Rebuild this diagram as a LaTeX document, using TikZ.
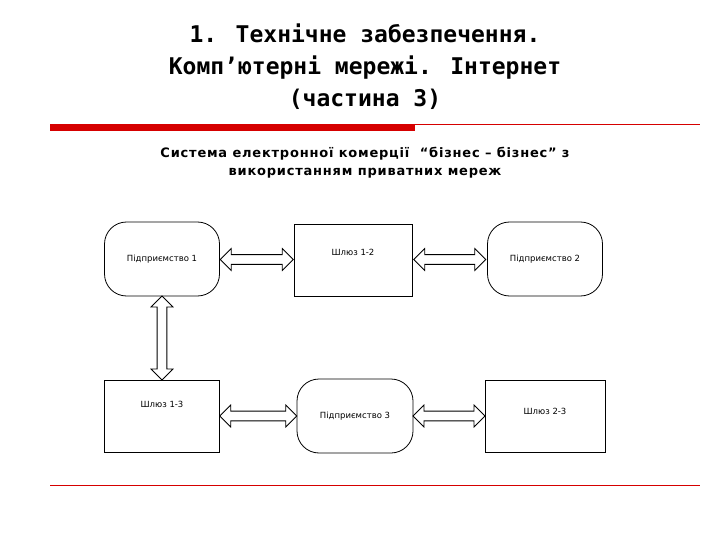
\documentclass[tikz,border=0pt]{standalone}
\usepackage{fontspec}
\setmainfont{DejaVu Sans}
\newfontfamily\titlefont{DejaVu Sans Mono}
\newfontfamily\subfont[LetterSpace=6]{DejaVu Sans}
\usetikzlibrary{shapes.arrows,calc}
\definecolor{slidered}{RGB}{214,0,0}
\begin{document}
\begin{tikzpicture}[x=1pt,y=-1pt,line width=0.8pt,
  ent/.style={draw,rounded corners=22pt,minimum width=115pt,minimum height=74pt,font=\fontsize{8.5}{9}\selectfont,inner sep=0pt},
  gw/.style={draw,minimum width=118pt,minimum height=72pt,font=\fontsize{8.5}{9}\selectfont,inner sep=0pt},
  dbl/.style={double arrow,draw,fill=white,minimum height=#1,minimum width=22pt,double arrow head extend=3pt,inner sep=2pt,double arrow head indent=0pt}]
\useasboundingbox (0,0) rectangle (720,540);
\fill[white] (0,0) rectangle (720,540);
\node[font=\titlefont\bfseries\fontsize{23}{32}\selectfont,align=center] (title) at (365,67) {1. Технічне забезпечення.\\Комп’ютерні мережі. Інтернет\\(частина 3)};
\fill[slidered] (50,124) rectangle (415,131);
\draw[slidered,line width=1pt] (415,125) -- (700,125);
\draw[slidered,line width=1pt] (50,485) -- (700,485);
\node[font=\subfont\bfseries\fontsize{13}{18}\selectfont,align=center] (sub) at (365,163) {Система електронної комерції \ “бізнес – бізнес” з\\використанням приватних мереж};
\node[ent] (e1) at (162,259) {Підприємство 1};
\node[gw,anchor=center] (g12) at (353,260) {\raisebox{16pt}{Шлюз 1-2}};
\node[ent] (e2) at (545,259) {\raisebox{-4pt}{Підприємство 2}};
\node[gw,minimum width=115pt] (g13) at (162,416) {\raisebox{24pt}{Шлюз 1-3}};
\node[ent,minimum width=116pt] (e3) at (355,416) {Підприємство 3};
\node[gw,minimum width=120pt] (g23) at (545,416) {\raisebox{10pt}{Шлюз 2-3}};
\node[dbl=73pt] (a1) at ($(e1.east)!0.5!(g12.west)$) {};
\node[dbl=72pt] (a2) at ($(g12.east)!0.5!(e2.west)$) {};
\node[dbl=77pt] (a3) at ($(g13.east)!0.5!(e3.west)$) {};
\node[dbl=72pt] (a4) at ($(e3.east)!0.5!(g23.west)$) {};
\node[dbl=84pt,rotate=90] (a5) at ($(e1.south)!0.5!(g13.north)$) {};
\end{tikzpicture}
\end{document}
